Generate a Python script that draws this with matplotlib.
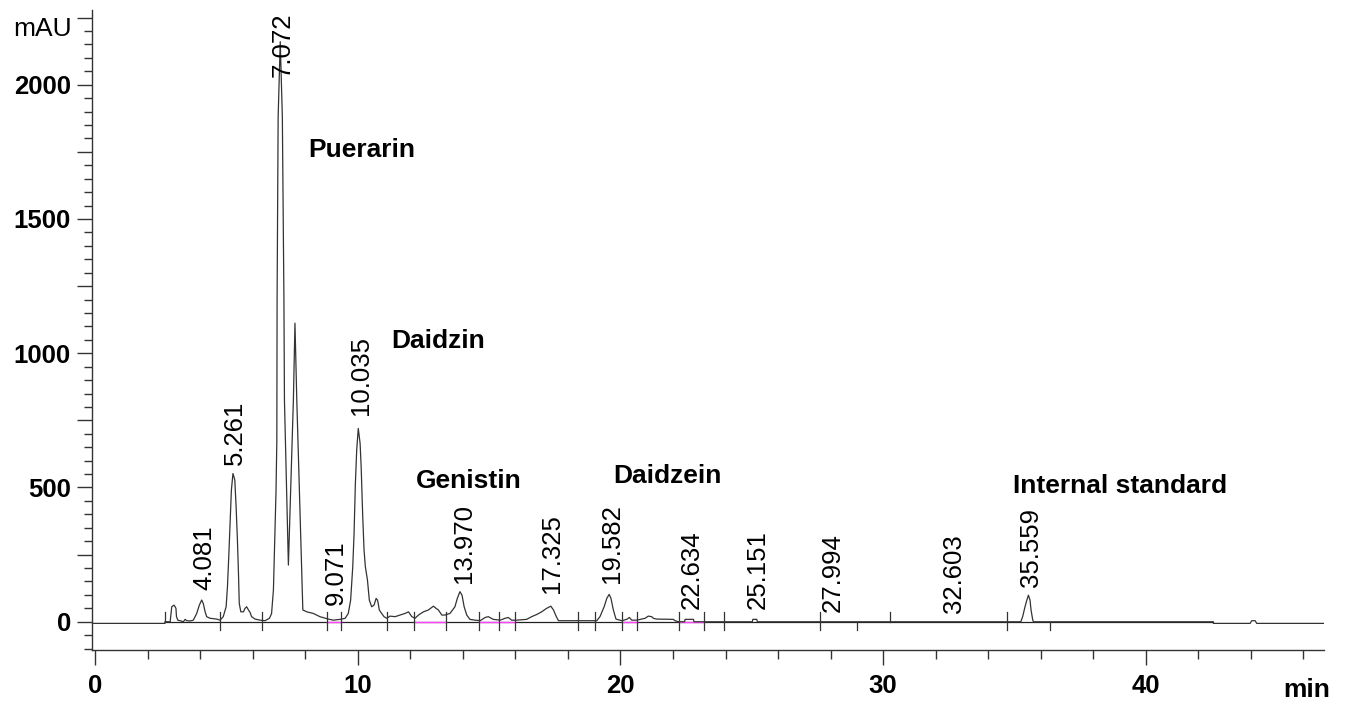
import matplotlib
matplotlib.use("Agg")
import matplotlib.pyplot as plt
from matplotlib.ticker import MultipleLocator, FuncFormatter

# ---- data (time in min, signal in mAU) ----
trace_t = [-0.13, 2.66, 2.66, 2.86, 2.92, 3.01, 3.08, 3.10, 3.15, 3.24, 3.36, 3.43, 3.49, 3.62,
           3.74, 3.87, 3.97, 4.06, 4.12, 4.19, 4.25, 4.38, 4.63, 4.76, 4.88, 4.99, 5.04, 5.09,
           5.14, 5.19, 5.25, 5.32, 5.37, 5.42, 5.46, 5.49, 5.55, 5.65, 5.71, 5.77, 5.84, 5.90,
           5.96, 6.09, 6.28, 6.47, 6.64, 6.72, 6.79, 6.84, 6.89, 6.92, 6.93, 6.97, 7.05, 7.13,
           7.19, 7.21, 7.36, 7.55, 7.61, 7.68, 7.91, 8.06, 8.31, 8.56, 8.88, 9.07, 9.33, 9.52,
           9.64, 9.73, 9.81, 9.86, 9.91, 9.96, 10.02, 10.09, 10.13, 10.19, 10.24, 10.29, 10.37,
           10.44, 10.53, 10.62, 10.70, 10.75, 10.78, 10.82, 10.91, 11.00, 11.10, 11.23, 11.42,
           11.61, 11.80, 11.93, 12.06, 12.18, 12.31, 12.50, 12.69, 12.88, 12.98, 13.07, 13.20,
           13.32, 13.51, 13.70, 13.79, 13.89, 13.97, 14.05, 14.15, 14.27, 14.47, 14.66, 14.85,
           14.97, 15.16, 15.42, 15.61, 15.73, 15.86, 16.05, 16.43, 16.62, 16.81, 17.00, 17.19,
           17.35, 17.45, 17.56, 17.64, 19.10, 19.22, 19.38, 19.48, 19.57, 19.64, 19.73, 19.83,
           20.05, 20.24, 20.30, 20.34, 20.43, 20.62, 20.94, 21.06, 21.19, 21.25, 21.38, 22.01,
           22.08, 22.21, 22.44, 22.46, 22.78, 22.80, 25.02, 25.04, 25.19, 25.21, 35.24, 35.31,
           35.40, 35.47, 35.53, 35.59, 35.63, 35.69, 35.72, 42.57, 42.57, 43.97, 44.03, 44.16,
           44.22, 46.76]
trace_mau = [-6, -6, 0, 0, 56, 62, 50, 19, 6, 4, 0, 9, 4, 3,
             6, 31, 62, 81, 68, 37, 19, 13, 10, 6, 19, 56, 130, 242,
             366, 490, 552, 528, 428, 304, 180, 68, 37, 37, 50, 56, 44, 35,
             19, 10, 6, 4, 13, 31, 118, 304, 490, 676, 1200, 1880, 2160, 1880,
             1200, 825, 211, 825, 1112, 825, 44, 37, 31, 19, 10, 6, 9, 13,
             31, 81, 205, 329, 515, 639, 720, 664, 577, 391, 267, 205, 155,
             81, 56, 62, 87, 81, 68, 44, 31, 19, 13, 21, 19,
             25, 31, 37, 19, 13, 25, 37, 44, 58, 50, 44, 25,
             25, 31, 56, 87, 112, 99, 56, 25, 9, 6, 4, 16,
             19, 9, 6, 13, 16, 6, 6, 9, 19, 27, 37, 50,
             58, 44, 19, 4, 4, 19, 56, 87, 102, 87, 44, 10,
             4, 9, 13, 16, 6, 6, 13, 21, 19, 13, 10, 9,
             4, 0, 0, 9, 9, 0, 0, 9, 9, 0, 0, 19,
             56, 81, 99, 81, 44, 9, 0, 0, -6, -6, 4, 4,
             -6, -6]

# retention time labels and the height (mAU) where each label starts
rt_labels = ["4.081", "5.261", "7.072", "9.071", "10.035", "13.970", "17.325",
             "19.582", "22.634", "25.151", "27.994", "32.603", "35.559"]
rt_label_base = [118, 583, 2028, 62, 770, 145, 106, 143, 46, 46, 37, 31, 130]

# compound names: left edge (min), baseline (mAU)
compounds = ["Puerarin", "Daidzin", "Genistin", "Daidzein", "Internal standard"]
compound_t = [8.11, 11.29, 12.22, 19.73, 34.96]
compound_mau = [1730, 1018, 497, 516, 479]

# integration events
marker_t = [2.66, 4.76, 6.35, 8.82, 9.35, 11.13, 12.15, 13.35, 14.61, 15.37, 16.0,
            18.4, 19.02, 20.07, 20.63, 22.22, 23.19, 23.96, 27.6, 29.0, 30.26, 34.73, 36.35]
marker_kind = ["up", "both", "both", "both", "both", "both", "both", "both", "both", "both",
               "both", "both", "both", "both", "both", "both", "both", "both", "both",
               "down", "up", "both", "down"]
pink_start = [8.82, 12.15, 14.61, 20.07, 22.22]
pink_end = [9.35, 13.35, 16.0, 20.63, 23.19]

# ---- plot ----
plt.rcParams['font.family'] = ['Liberation Sans', 'DejaVu Sans']

fig = plt.figure(figsize=(13.47, 7.01), dpi=100)
ax = fig.add_axes([0.0681, 0.0728, 0.9148, 0.9129])

# integration baseline
ax.plot([2.66, 42.57], [0, 0], color='#222222', lw=0.9)
for a, b in zip(pink_start, pink_end):
    ax.plot([a, b], [0, 0], color='#ff44ff', lw=1.0)

# chromatogram trace
ax.plot(trace_t, trace_mau, color='#333333', lw=0.9)

# event markers
for t, k in zip(marker_t, marker_kind):
    lo = -30 if k in ("both", "down") else 0
    hi = 37 if k in ("both", "up") else 0
    ax.plot([t, t], [lo, hi], color='#333333', lw=0.9)

for lab, base in zip(rt_labels, rt_label_base):
    ax.text(float(lab) + 0.08, base, lab, rotation=90, ha='center', va='bottom',
            fontsize=18.5, color='black')

for name, t, v in zip(compounds, compound_t, compound_mau):
    ax.text(t, v, name, ha='left', va='baseline', fontsize=19, fontweight='bold')

ax.set_xlim(-0.126, 46.78)
ax.set_ylim(-105, 2278)

for s in ['top', 'right']:
    ax.spines[s].set_visible(False)
for s in ['left', 'bottom']:
    ax.spines[s].set_color('#333333')
    ax.spines[s].set_linewidth(1.0)

ax.xaxis.set_major_locator(MultipleLocator(10))
ax.xaxis.set_minor_locator(MultipleLocator(2))
ax.yaxis.set_major_locator(MultipleLocator(250))
ax.yaxis.set_minor_locator(MultipleLocator(50))
ax.yaxis.set_major_formatter(FuncFormatter(lambda v, p: f"{int(v)}" if v % 500 == 0 else ""))

ax.tick_params(axis='x', which='major', length=11, width=1, color='#333333', pad=6)
ax.tick_params(axis='x', which='minor', length=6.5, width=1, color='#333333')
ax.tick_params(axis='y', which='major', length=11, width=1, color='#333333', pad=4)
ax.tick_params(axis='y', which='minor', length=6, width=1, color='#333333')
for lbl in ax.get_xticklabels() + ax.get_yticklabels():
    lbl.set_fontsize(18.5)
    lbl.set_fontweight('bold')

fig.text(72 / 1347, 1 - 29 / 701, "mAU", ha='right', va='center', fontsize=19)
fig.text(1330 / 1347, 1 - 690 / 701, "min", ha='right', va='center', fontsize=19, fontweight='bold')

fig.savefig("out.png", dpi=100)
